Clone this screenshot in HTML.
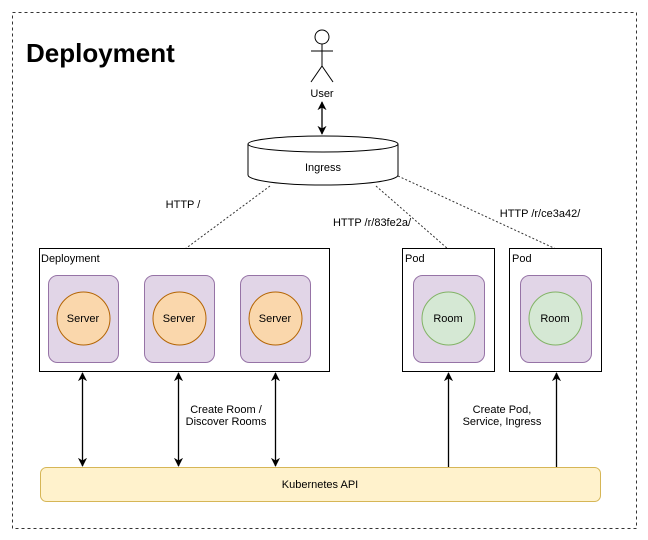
<!DOCTYPE html>
<html><head><style>body{margin:0;background:#fff}svg{display:block}text{font-family:"Liberation Sans",Arial,sans-serif;font-size:11px;fill:#000}</style></head><body>
<svg width="648" height="540" viewBox="0 0 648 540" xmlns="http://www.w3.org/2000/svg">
<defs><marker id="a" viewBox="0 0 10 10" refX="9" refY="5" markerWidth="7" markerHeight="7" orient="auto-start-reverse"><path d="M0,0 L10,5 L0,10 L3,5 z" fill="#000"/></marker></defs>
<rect x="12.5" y="12.5" width="624" height="516" fill="#fff" stroke="#333" stroke-dasharray="3,3"/>
<text x="26" y="62" style="font-size:26px;font-weight:bold">Deployment</text>
<circle cx="322" cy="37" r="7" fill="none" stroke="#000"/>
<line x1="322" y1="44" x2="322" y2="66" stroke="#000"/><line x1="311" y1="51" x2="333" y2="51" stroke="#000"/>
<line x1="322" y1="66" x2="311" y2="82" stroke="#000"/><line x1="322" y1="66" x2="333" y2="82" stroke="#000"/>
<text x="322" y="97" text-anchor="middle">User</text>
<line x1="322" y1="102" x2="322" y2="134" stroke="#000" stroke-width="1.3" marker-start="url(#a)" marker-end="url(#a)"/>
<path d="M248,144 L248,175 A75,10 0 0 0 398,175 L398,144" fill="#fff" stroke="#000"/>
<ellipse cx="323" cy="144" rx="75" ry="8" fill="#fff" stroke="#000"/>
<text x="323" y="171" text-anchor="middle">Ingress</text>
<g stroke="#333" stroke-dasharray="2,2"><line x1="270" y1="186" x2="185" y2="249"/><line x1="376" y1="186" x2="448" y2="249"/><line x1="398" y1="176" x2="556" y2="249"/></g>
<text x="183" y="208" text-anchor="middle">HTTP /</text>
<text x="372" y="226" text-anchor="middle">HTTP /r/83fe2a/</text>
<text x="540" y="217" text-anchor="middle">HTTP /r/ce3a42/</text>
<rect x="39.5" y="248.5" width="290" height="123" fill="#fff" stroke="#000"/>
<text x="41" y="262">Deployment</text>
<g fill="#e1d5e7" stroke="#9673a6"><rect x="48.5" y="275.5" width="70" height="87" rx="9"/><rect x="144.5" y="275.5" width="70" height="87" rx="9"/><rect x="240.5" y="275.5" width="70" height="87" rx="9"/></g>
<g fill="#fad7ac" stroke="#b46504"><circle cx="83.5" cy="318.5" r="26.5"/><circle cx="179.5" cy="318.5" r="26.5"/><circle cx="275.5" cy="318.5" r="26.5"/></g>
<text x="83" y="322" text-anchor="middle">Server</text><text x="179" y="322" text-anchor="middle">Server</text><text x="275" y="322" text-anchor="middle">Server</text>
<rect x="402.5" y="248.5" width="92" height="123" fill="#fff" stroke="#000"/>
<rect x="509.5" y="248.5" width="92" height="123" fill="#fff" stroke="#000"/>
<text x="405" y="262">Pod</text><text x="512" y="262">Pod</text>
<g fill="#e1d5e7" stroke="#9673a6"><rect x="413.5" y="275.5" width="71" height="87" rx="9"/><rect x="520.5" y="275.5" width="71" height="87" rx="9"/></g>
<g fill="#d5e8d4" stroke="#82b366"><circle cx="448.5" cy="318.5" r="26.5"/><circle cx="555.5" cy="318.5" r="26.5"/></g>
<text x="448" y="322" text-anchor="middle">Room</text><text x="555" y="322" text-anchor="middle">Room</text>
<g stroke="#000" stroke-width="1.3">
<line x1="82.5" y1="373" x2="82.5" y2="466" marker-start="url(#a)" marker-end="url(#a)"/>
<line x1="178.5" y1="373" x2="178.5" y2="466" marker-start="url(#a)" marker-end="url(#a)"/>
<line x1="275.5" y1="373" x2="275.5" y2="466" marker-start="url(#a)" marker-end="url(#a)"/>
<line x1="448.5" y1="467" x2="448.5" y2="373" marker-end="url(#a)"/>
<line x1="556.5" y1="467" x2="556.5" y2="373" marker-end="url(#a)"/>
</g>
<text x="226" y="413" text-anchor="middle">Create Room /</text><text x="226" y="425" text-anchor="middle">Discover Rooms</text>
<text x="502" y="413" text-anchor="middle">Create Pod,</text><text x="502" y="425" text-anchor="middle">Service, Ingress</text>
<rect x="40.5" y="467.5" width="560" height="34" rx="6" fill="#fff2cc" stroke="#d6b656"/>
<text x="320" y="488" text-anchor="middle">Kubernetes API</text>
</svg>
</body></html>
